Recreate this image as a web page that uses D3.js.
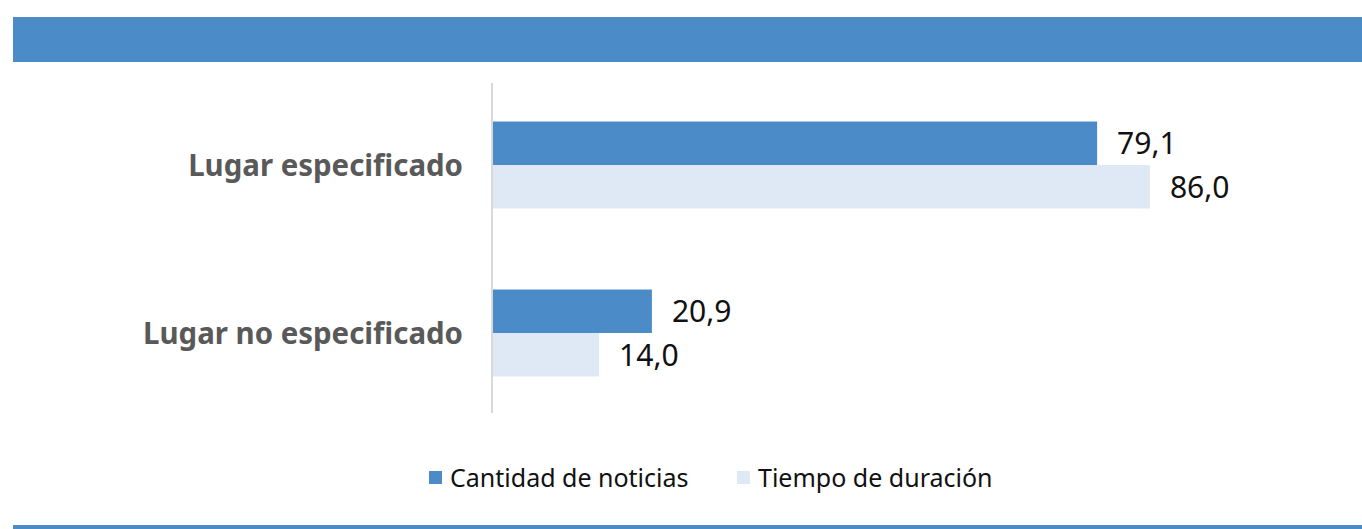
<!DOCTYPE html>
<html>
<head>
<meta charset="utf-8">
<script src="https://cdn.jsdelivr.net/npm/d3@7"></script>
<style>
  html, body { margin: 0; padding: 0; background: #fff; }
  svg { display: block; }
  text { font-family: "Noto Sans", "Open Sans", sans-serif; }
</style>
</head>
<body>
<svg id="chart" width="1362" height="529"></svg>
<script>
var categories = ["Lugar especificado", "Lugar no especificado"];
var seriesNames = ["Cantidad de noticias", "Tiempo de duración"];
var cantidad = [79.1, 20.9];
var tiempo = [86.0, 14.0];
var colors = ["#4a8bc8", "#dfe9f5"];

var svg = d3.select("#chart");
var W = +svg.attr("width"), H = +svg.attr("height");

// squeeze text a bit horizontally (reference font is narrower)
function condense(sel, k) {
  sel.each(function() {
    var n = this.getComputedTextLength();
    d3.select(this).attr("textLength", n * k).attr("lengthAdjust", "spacingAndGlyphs");
  });
}

// header band and bottom rule
svg.append("rect").attr("x", 13).attr("y", 17).attr("width", W - 13).attr("height", 45).attr("fill", colors[0]);
svg.append("rect").attr("x", 13).attr("y", 525).attr("width", W - 13).attr("height", 4).attr("fill", colors[0]);

var x = d3.scaleLinear().domain([0, 100]).range([492, 1257]);
var y0 = d3.scaleBand().domain(categories).range([81, 417]);
var y1 = d3.scaleBand().domain([0, 1]).range([0, 87]);
var barOff = (y0.bandwidth() - 87) / 2;

var data = categories.map(function(c, i) {
  return { cat: c, vals: [cantidad[i], tiempo[i]] };
});

var groups = svg.selectAll("g.grp").data(data).enter().append("g")
  .attr("class", "grp")
  .attr("transform", function(d) { return "translate(0," + (y0(d.cat) + barOff) + ")"; });

groups.selectAll("rect").data(function(d) { return d.vals; }).enter().append("rect")
  .attr("x", x(0))
  .attr("y", function(d, i) { return y1(i); })
  .attr("width", function(d) { return x(d) - x(0); })
  .attr("height", y1.bandwidth())
  .attr("fill", function(d, i) { return colors[i]; });

groups.selectAll("text.val").data(function(d) { return d.vals; }).enter().append("text")
  .attr("class", "val")
  .attr("x", function(d) { return x(d) + 20; })
  .attr("y", function(d, i) { return y1(i) + y1.bandwidth() / 2; })
  .attr("dy", "0.36em")
  .attr("font-size", 31)
  .attr("fill", "#111")
  .text(function(d) { return d3.format(".1f")(d).replace(".", ","); })
  .call(condense, 0.97);

// y axis line
svg.append("line")
  .attr("x1", x(0)).attr("x2", x(0))
  .attr("y1", 83).attr("y2", 413)
  .attr("stroke", "#d9d9d9").attr("stroke-width", 2);

// category labels
svg.selectAll("text.cat").data(categories).enter().append("text")
  .attr("class", "cat")
  .attr("x", 463)
  .attr("y", function(d) { return y0(d) + y0.bandwidth() / 2; })
  .attr("dy", "0.36em")
  .attr("text-anchor", "end")
  .attr("font-size", 30)
  .attr("font-weight", "bold")
  .attr("fill", "#595959")
  .text(function(d) { return d; })
  .call(condense, 0.98);

// legend
var legX = [429, 737];
var leg = svg.selectAll("g.leg").data(seriesNames).enter().append("g")
  .attr("class", "leg")
  .attr("transform", function(d, i) { return "translate(" + legX[i] + ",471)"; });
leg.append("rect").attr("width", 13).attr("height", 13)
  .attr("fill", function(d, i) { return colors[i]; });
leg.append("text")
  .attr("x", 21).attr("y", 7).attr("dy", "0.36em")
  .attr("font-size", 25)
  .attr("fill", "#111")
  .text(function(d) { return d; })
  .call(condense, 1.0);
</script>
</body>
</html>
